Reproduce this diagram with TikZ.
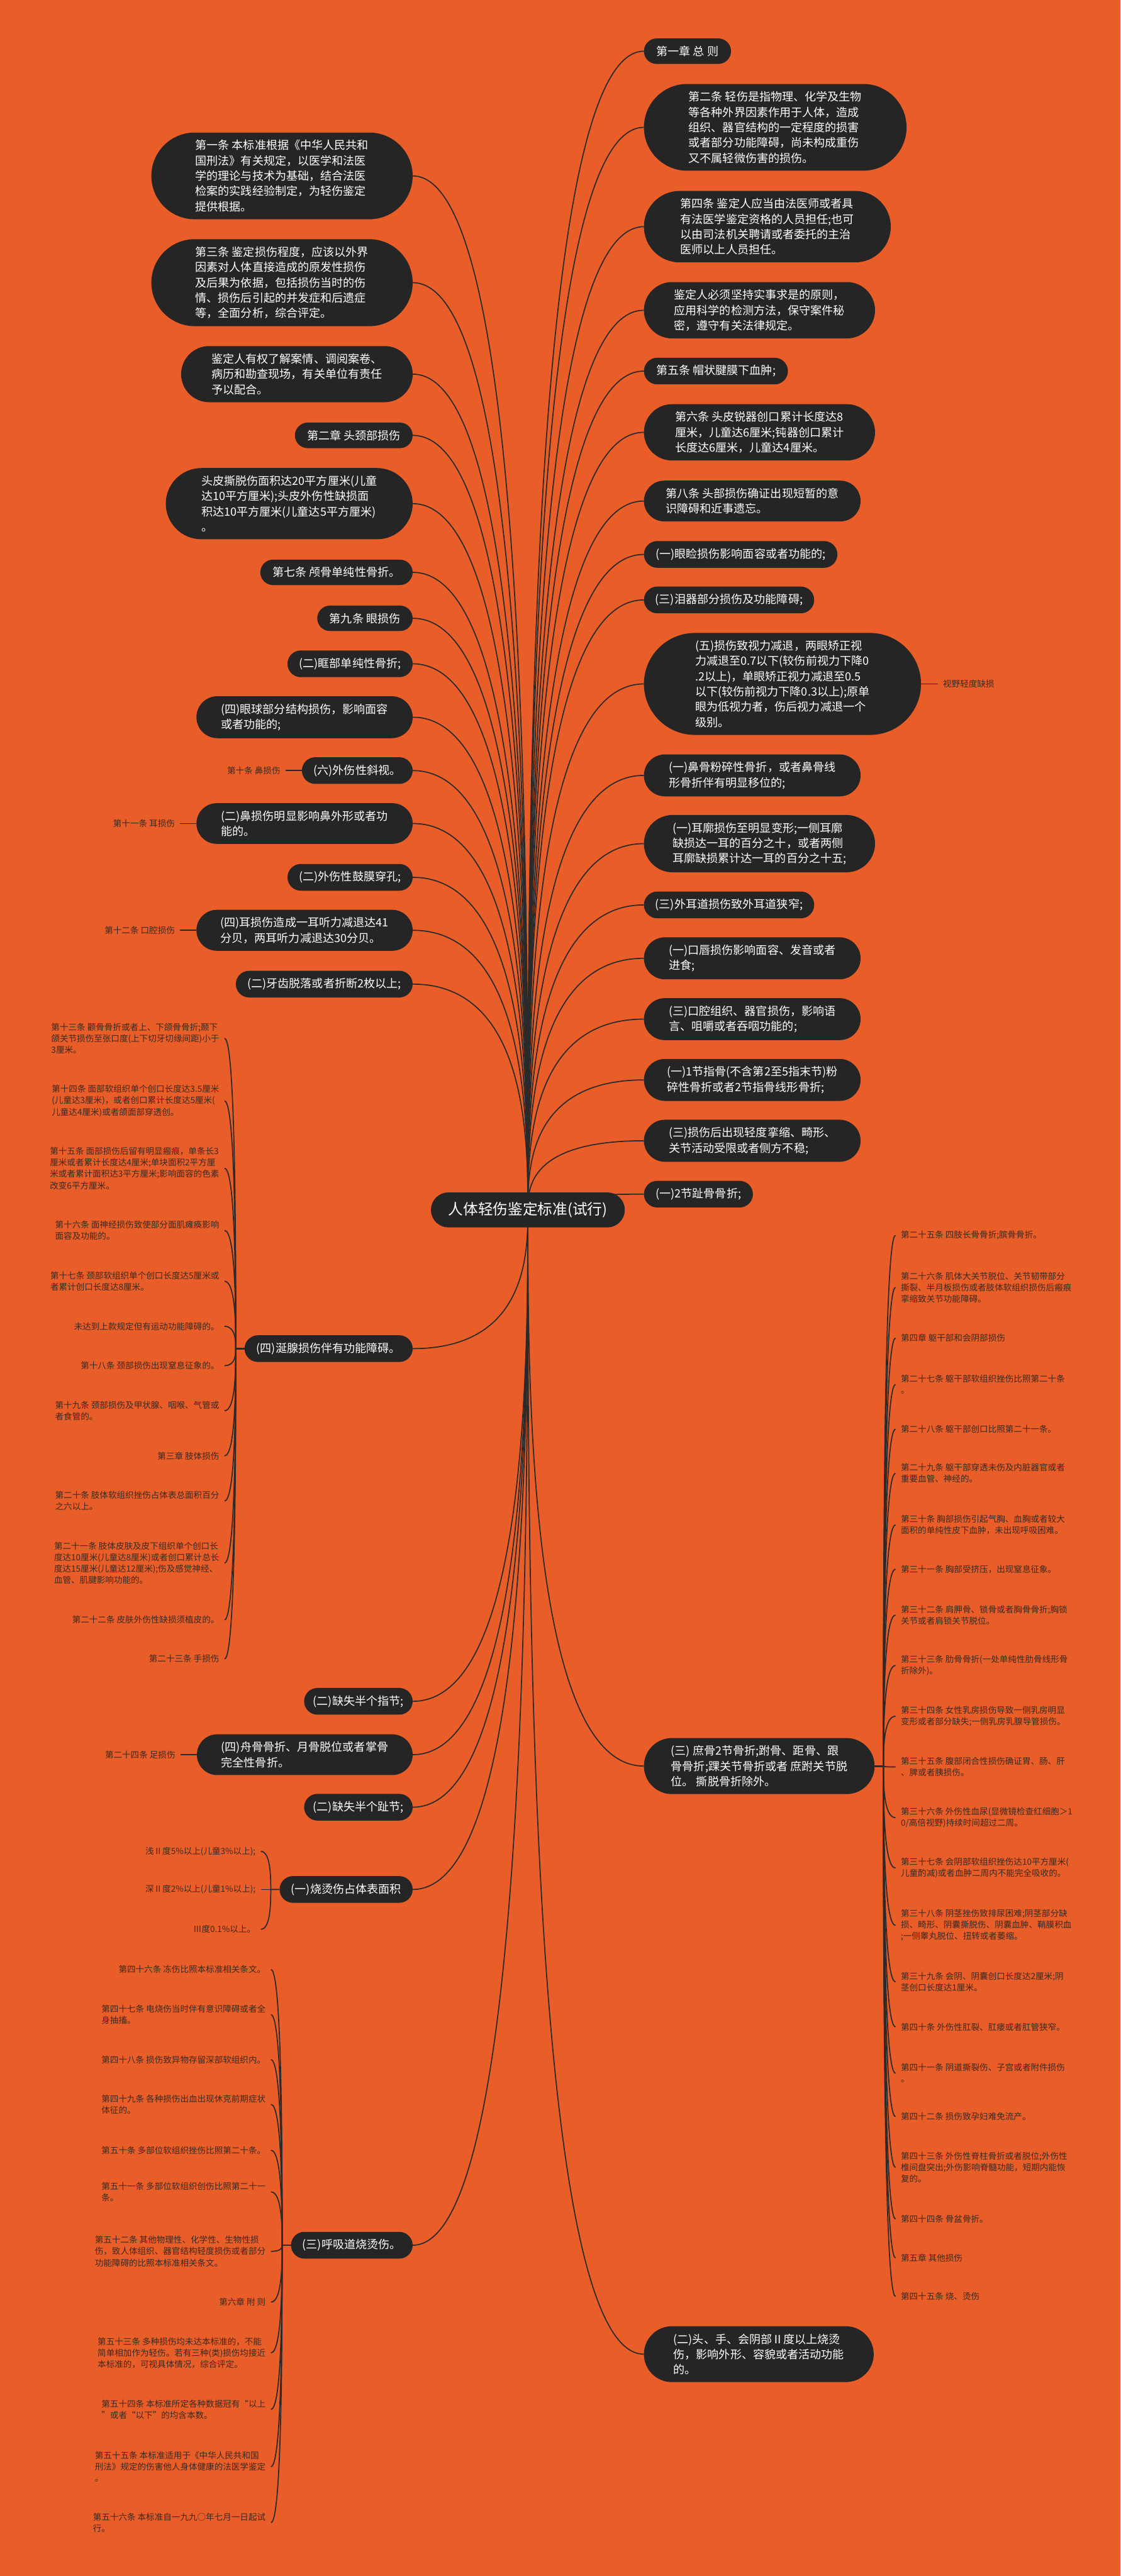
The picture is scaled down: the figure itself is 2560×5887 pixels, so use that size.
\documentclass[tikz,border=0pt]{standalone}
\usepackage{fontspec}
\setmainfont{Noto Sans CJK SC}
\usetikzlibrary{shapes.misc,calc}
\definecolor{bgc}{HTML}{E95E28}
\definecolor{boxc}{HTML}{252525}
\definecolor{linec}{HTML}{2A2A2A}
\definecolor{smallc}{HTML}{3A2A22}
\newcommand{\bigf}{\fontsize{26}{35}\selectfont}
\newcommand{\rootf}{\fontsize{34}{40}\selectfont}
\newcommand{\smallf}{\fontsize{19.5}{26}\selectfont}
\pgfdeclarelayer{back}
\pgfdeclarelayer{lines}
\pgfsetlayers{back,lines,main}
\tikzset{
 pill/.style={rounded rectangle, fill=boxc, text=white, font=\bigf, align=left, inner xsep=4pt, inner ysep=17pt},
 rbox/.style={pill, anchor=west, minimum width=#1},
 rbox/.default=0pt,
 lbox/.style={pill, anchor=east, minimum width=#1},
 lbox/.default=0pt,
 rootbox/.style={rounded rectangle, fill=boxc, text=white, font=\rootf, inner xsep=4pt, inner ysep=20pt, minimum width=451pt, minimum height=80pt},
 leaf/.style={text=smallc, font=\smallf, align=left, inner xsep=12pt, inner ysep=2pt},
 lleaf/.style={leaf, anchor=east},
 rleaf/.style={leaf, anchor=west},
 conn/.style={draw=linec, line width=2.5pt},
}
\newcommand{\rc}[1]{\draw[conn] (root.center) .. controls ($(root.center)!0.3!(root.center|-#1)$) and (root.center|-#1) .. (#1);}
\newcommand{\lbr}[2]{\coordinate (s) at ($(#1.west)+(-20,0)$); \draw[conn] (#1.west) -- (s) .. controls ($(s)!0.3!(s|-#2.east)$) and (s|-#2.east) .. (#2.east);}
\newcommand{\rbr}[2]{\coordinate (s) at ($(#1.east)+(20,0)$); \draw[conn] (#1.east) -- (s) .. controls ($(s)!0.3!(s|-#2.west)$) and (s|-#2.west) .. (#2.west);}
\begin{document}
\begin{tikzpicture}[x=1pt,y=-1pt]
\useasboundingbox (0,0) rectangle (2560,5887);
\begin{pgfonlayer}{back}
\fill[bgc] (0,0) rectangle (2560,5887);
\end{pgfonlayer}

\node[rootbox] (root) at (1206,2765) {人体轻伤鉴定标准(试行)};

% right boxes
\node[rbox=207pt] (R1) at (1471,117) {第一章 总 则};
\node[rbox=608pt] (R2) at (1471,291) {第二条 轻伤是指物理、化学及生物\\等各种外界因素作用于人体，造成\\组织、器官结构的一定程度的损害\\或者部分功能障碍，尚未构成重伤\\又不属轻微伤害的损伤。};
\node[rbox=572pt] (R3) at (1471,518) {第四条 鉴定人应当由法医师或者具\\有法医学鉴定资格的人员担任;也可\\以由司法机关聘请或者委托的主治\\医师以上人员担任。};
\node[rbox=536pt] (R4) at (1471,709) {鉴定人必须坚持实事求是的原则，\\应用科学的检测方法，保守案件秘\\密，遵守有关法律规定。};
\node[rbox=337pt] (R5) at (1471,848) {第五条 帽状腱膜下血肿;};
\node[rbox=536pt] (R6) at (1471,988) {第六条 头皮锐器创口累计长度达8\\厘米，儿童达6厘米;钝器创口累计\\长度达6厘米，儿童达4厘米。};
\node[rbox=503pt] (R7) at (1471,1145) {第八条 头部损伤确证出现短暂的意\\识障碍和近事遗忘。};
\node[rbox=450pt] (R8) at (1471,1267) {(一)眼睑损伤影响面容或者功能的;};
\node[rbox=397pt] (R9) at (1471,1371) {(三)泪器部分损伤及功能障碍;};
\node[rbox=641pt] (R10) at (1471,1563) {(五)损伤致视力减退，两眼矫正视\\力减退至0.7以下(较伤前视力下降0\\.2以上)，单眼矫正视力减退至0.5\\以下(较伤前视力下降0.3以上);原单\\眼为低视力者，伤后视力减退一个\\级别。};
\node[rbox=503pt] (R11) at (1471,1772) {(一)鼻骨粉碎性骨折，或者鼻骨线\\形骨折伴有明显移位的;};
\node[rbox=536pt] (R12) at (1471,1928) {(一)耳廓损伤至明显变形;一侧耳廓\\缺损达一耳的百分之十，或者两侧\\耳廓缺损累计达一耳的百分之十五;};
\node[rbox=397pt] (R13) at (1471,2068) {(三)外耳道损伤致外耳道狭窄;};
\node[rbox=503pt] (R14) at (1471,2190) {(一)口唇损伤影响面容、发音或者\\进食;};
\node[rbox=503pt] (R15) at (1471,2329) {(三)口腔组织、器官损伤，影响语\\言、咀嚼或者吞咽功能的;};
\node[rbox=503pt] (R16) at (1471,2468) {(一)1节指骨(不含第2至5指末节)粉\\碎性骨折或者2节指骨线形骨折;};
\node[rbox=503pt] (R17) at (1471,2607) {(三)损伤后出现轻度挛缩、畸形、\\关节活动受限或者侧方不稳;};
\node[rbox=257pt] (R18) at (1471,2729) {(一)2节趾骨骨折;};
\node[rbox=535pt] (R19) at (1471,4036) {(三) 庶骨2节骨折;跗骨、距骨、跟\\骨骨折;踝关节骨折或者 庶跗关节脱\\位。 撕脱骨折除外。};
\node[rbox=533pt] (R20) at (1471,5380) {(二)头、手、会阴部Ⅱ度以上烧烫\\伤，影响外形、容貌或者活动功能\\的。};

% left boxes
\node[lbox=605pt] (L1) at (943,402) {第一条 本标准根据《中华人民共和\\国刑法》有关规定，以医学和法医\\学的理论与技术为基础，结合法医\\检案的实践经验制定，为轻伤鉴定\\提供根据。};
\node[lbox=605pt] (L2) at (943,646) {第三条 鉴定损伤程度，应该以外界\\因素对人体直接造成的原发性损伤\\及后果为依据，包括损伤当时的伤\\情、损伤后引起的并发症和后遗症\\等，全面分析，综合评定。};
\node[lbox=537pt] (L3) at (943,855) {鉴定人有权了解案情、调阅案卷、\\病历和勘查现场，有关单位有责任\\予以配合。};
\node[lbox=277pt] (L4) at (943,995) {第二章 头颈部损伤};
\node[lbox=572pt] (L5) at (943,1151) {头皮撕脱伤面积达20平方厘米(儿童\\达10平方厘米);头皮外伤性缺损面\\积达10平方厘米(儿童达5平方厘米)\\。};
\node[lbox=356pt] (L6) at (943,1308) {第七条 颅骨单纯性骨折。};
\node[lbox=226pt] (L7) at (943,1413) {第九条 眼损伤};
\node[lbox=294pt] (L8) at (943,1517) {(二)眶部单纯性骨折;};
\node[lbox=502pt] (L9) at (943,1639) {(四)眼球部分结构损伤，影响面容\\或者功能的;};
\node[lbox=261pt] (L10) at (943,1761) {(六)外伤性斜视。};
\node[lbox=502pt] (L11) at (943,1882) {(二)鼻损伤明显影响鼻外形或者功\\能的。};
\node[lbox=294pt] (L12) at (943,2005) {(二)外伤性鼓膜穿孔;};
\node[lbox=502pt] (L13) at (943,2126) {(四)耳损伤造成一耳听力减退达41\\分贝，两耳听力减退达30分贝。};
\node[lbox=412pt] (L14) at (943,2249) {(二)牙齿脱落或者折断2枚以上;};
\node[lbox=392pt] (L15) at (943,3082) {(四)涎腺损伤伴有功能障碍。};
\node[lbox=256pt] (L16) at (943,3888) {(二)缺失半个指节;};
\node[lbox=501pt] (L17) at (943,4010) {(四)舟骨骨折、月骨脱位或者掌骨\\完全性骨折。};
\node[lbox=256pt] (L18) at (943,4130) {(二)缺失半个趾节;};
\node[lbox=312pt] (L19) at (943,4318) {(一)烧烫伤占体表面积};
\node[lbox=286pt] (L20) at (943,5131) {(三)呼吸道烧烫伤。};

% labels
\node[lleaf] (k10) at ($(L10.west)+(-37,0)$) {第十条 鼻损伤};
\node[lleaf] (k11) at ($(L11.west)+(-37,0)$) {第十一条 耳损伤};
\node[lleaf] (k12) at ($(L13.west)+(-37,0)$) {第十二条 口腔损伤};
\node[lleaf] (k24) at ($(L17.west)+(-37,0)$) {第二十四条 足损伤};
\node[rleaf] (vy) at ($(R10.east)+(38,0)$) {视野轻度缺损};

% children of L15
\node[lleaf] (a13) at (513,2373) {第十三条 颧骨骨折或者上、下颌骨骨折;颞下\\颌关节损伤至张口度(上下切牙切缘间距)小于\\3厘米。};
\node[lleaf] (a14) at (513,2516) {第十四条 面部软组织单个创口长度达3.5厘米\\(儿童达3厘米)，或者创口累计长度达5厘米(\\儿童达4厘米)或者颌面部穿透创。};
\node[lleaf] (a15) at (513,2670) {第十五条 面部损伤后留有明显瘢痕，单条长3\\厘米或者累计长度达4厘米;单块面积2平方厘\\米或者累计面积达3平方厘米;影响面容的色素\\改变6平方厘米。};
\node[lleaf] (a16) at (513,2812) {第十六条 面神经损伤致使部分面肌瘫痪影响\\面容及功能的。};
\node[lleaf] (a17) at (513,2928) {第十七条 颈部软组织单个创口长度达5厘米或\\者累计创口长度达8厘米。};
\node[lleaf] (a17b) at (513,3031) {未达到上款规定但有运动功能障碍的。};
\node[lleaf] (a18) at (513,3121) {第十八条 颈部损伤出现窒息征象的。};
\node[lleaf] (a19) at (513,3224) {第十九条 颈部损伤及甲状腺、咽喉、气管或\\者食管的。};
\node[lleaf] (a3z) at (513,3327) {第三章 肢体损伤};
\node[lleaf] (a20) at (513,3430) {第二十条 肢体软组织挫伤占体表总面积百分\\之六以上。};
\node[lleaf] (a21) at (513,3572) {第二十一条 肢体皮肤及皮下组织单个创口长\\度达10厘米(儿童达8厘米)或者创口累计总长\\度达15厘米(儿童达12厘米);伤及感觉神经、\\血管、肌腱影响功能的。};
\node[lleaf] (a22) at (513,3702) {第二十二条 皮肤外伤性缺损须植皮的。};
\node[lleaf] (a23) at (513,3791) {第二十三条 手损伤};

% children of L19
\node[lleaf] (b1) at (596,4231) {浅Ⅱ度5\%以上(儿童3\%以上);};
\node[lleaf] (b2) at (596,4318) {深Ⅱ度2\%以上(儿童1\%以上);};
\node[lleaf] (b3) at (596,4409) {Ⅲ度0.1\%以上。};

% children of L20
\node[lleaf] (d46) at (619,4501) {第四十六条 冻伤比照本标准相关条文。};
\node[lleaf] (d47) at (619,4604) {第四十七条 电烧伤当时伴有意识障碍或者全\\身抽搐。};
\node[lleaf] (d48) at (619,4707) {第四十八条 损伤致异物存留深部软组织内。};
\node[lleaf] (d49) at (619,4809) {第四十九条 各种损伤出血出现休克前期症状\\体征的。};
\node[lleaf] (d50) at (619,4914) {第五十条 多部位软组织挫伤比照第二十条。};
\node[lleaf] (d51) at (619,5009) {第五十一条 多部位软组织创伤比照第二十一\\条。};
\node[lleaf] (d52) at (619,5145) {第五十二条 其他物理性、化学性、生物性损\\伤，致人体组织、器官结构轻度损伤或者部分\\功能障碍的比照本标准相关条文。};
\node[lleaf] (d6z) at (619,5261) {第六章 附 则};
\node[lleaf] (d53) at (619,5377) {第五十三条 多种损伤均未达本标准的，不能\\简单相加作为轻伤。若有三种(类)损伤均接近\\本标准的，可视具体情况，综合评定。};
\node[lleaf] (d54) at (619,5506) {第五十四条 本标准所定各种数据冠有“以上\\”或者“以下”的均含本数。};
\node[lleaf] (d55) at (619,5637) {第五十五条 本标准适用于《中华人民共和国\\刑法》规定的伤害他人身体健康的法医学鉴定\\。};
\node[lleaf] (d56) at (619,5765) {第五十六条 本标准自一九九○年七月一日起试\\行。};

% children of R19
\node[rleaf] (c25) at (2046,2823) {第二十五条 四肢长骨骨折;膑骨骨折。};
\node[rleaf] (c26) at (2046,2942) {第二十六条 肌体大关节脱位、关节韧带部分\\撕裂、半月板损伤或者肢体软组织损伤后瘢痕\\挛缩致关节功能障碍。};
\node[rleaf] (c4z) at (2046,3058) {第四章 躯干部和会阴部损伤};
\node[rleaf] (c27) at (2046,3164) {第二十七条 躯干部软组织挫伤比照第二十条\\。};
\node[rleaf] (c28) at (2046,3266) {第二十八条 躯干部创口比照第二十一条。};
\node[rleaf] (c29) at (2046,3367) {第二十九条 躯干部穿透未伤及内脏器官或者\\重要血管、神经的。};
\node[rleaf] (c30) at (2046,3485) {第三十条 胸部损伤引起气胸、血胸或者较大\\面积的单纯性皮下血肿，未出现呼吸困难。};
\node[rleaf] (c31) at (2046,3586) {第三十一条 胸部受挤压，出现窒息征象。};
\node[rleaf] (c32) at (2046,3691) {第三十二条 肩胛骨、锁骨或者胸骨骨折;胸锁\\关节或者肩锁关节脱位。};
\node[rleaf] (c33) at (2046,3806) {第三十三条 肋骨骨折(一处单纯性肋骨线形骨\\折除外)。};
\node[rleaf] (c34) at (2046,3922) {第三十四条 女性乳房损伤导致一侧乳房明显\\变形或者部分缺失;一侧乳房乳腺导管损伤。};
\node[rleaf] (c35) at (2046,4038) {第三十五条 腹部闭合性损伤确证胃、肠、肝\\、脾或者胰损伤。};
\node[rleaf] (c36) at (2046,4154) {第三十六条 外伤性血尿(显微镜检查红细胞＞1\\0/高倍视野)持续时间超过二周。};
\node[rleaf] (c37) at (2046,4269) {第三十七条 会阴部软组织挫伤达10平方厘米(\\儿童酌减)或者血肿二周内不能完全吸收的。};
\node[rleaf] (c38) at (2046,4400) {第三十八条 阴茎挫伤致排尿困难;阴茎部分缺\\损、畸形、阴囊撕脱伤、阴囊血肿、鞘膜积血\\;一侧睾丸脱位、扭转或者萎缩。};
\node[rleaf] (c39) at (2046,4529) {第三十九条 会阴、阴囊创口长度达2厘米;阴\\茎创口长度达1厘米。};
\node[rleaf] (c40) at (2046,4632) {第四十条 外伤性肛裂、肛瘘或者肛管狭窄。};
\node[rleaf] (c41) at (2046,4738) {第四十一条 阴道撕裂伤、子宫或者附件损伤\\。};
\node[rleaf] (c42) at (2046,4837) {第四十二条 损伤致孕妇难免流产。};
\node[rleaf] (c43) at (2046,4953) {第四十三条 外伤性脊柱骨折或者脱位;外伤性\\椎间盘突出;外伤影响脊髓功能，短期内能恢\\复的。};
\node[rleaf] (c44) at (2046,5071) {第四十四条 骨盆骨折。};
\node[rleaf] (c5z) at (2046,5160) {第五章 其他损伤};
\node[rleaf] (c45) at (2046,5248) {第四十五条 烧、烫伤};

\begin{pgfonlayer}{lines}
\foreach \i in {1,...,20} {\rc{R\i.west}}
\foreach \i in {1,...,20} {\rc{L\i.east}}
\draw[conn] (k10.east) -- (L10.west);
\draw[conn] (k11.east) -- (L11.west);
\draw[conn] (k12.east) -- (L13.west);
\draw[conn] (k24.east) -- (L17.west);
\draw[conn] (R10.east) -- (vy.west);
\foreach \c in {a13,a14,a15,a16,a17,a17b,a18,a19,a3z,a20,a21,a22,a23} {\lbr{L15}{\c}}
\foreach \c in {b1,b2,b3} {\lbr{L19}{\c}}
\foreach \c in {d46,d47,d48,d49,d50,d51,d52,d6z,d53,d54,d55,d56} {\lbr{L20}{\c}}
\foreach \c in {c25,c26,c4z,c27,c28,c29,c30,c31,c32,c33,c34,c35,c36,c37,c38,c39,c40,c41,c42,c43,c44,c5z,c45} {\rbr{R19}{\c}}
\end{pgfonlayer}
\end{tikzpicture}
\end{document}
